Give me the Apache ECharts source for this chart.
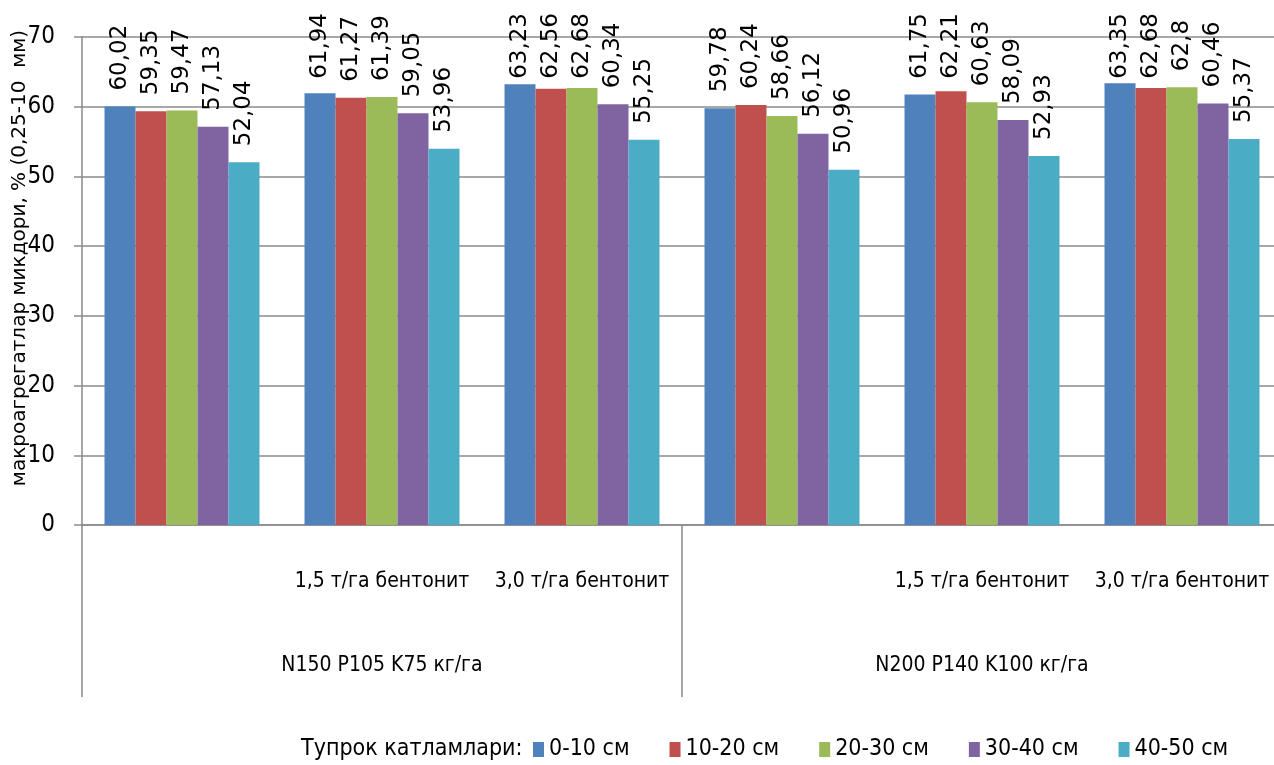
<!DOCTYPE html>
<html>
<head>
<meta charset="utf-8">
<script src="https://cdn.jsdelivr.net/npm/echarts@6/dist/echarts.min.js"></script>
<style>
  html, body { margin: 0; padding: 0; background: #fff; overflow: hidden; }
  #chart { width: 1282px; height: 765px; }
</style>
</head>
<body>
<div id="chart"></div>
<script>
// Treatment sub-labels (first row under the axis) and fertiliser groups (second row)
var treatments = ['', '1,5 т/га бентонит', '3,0 т/га бентонит', '', '1,5 т/га бентонит', '3,0 т/га бентонит'];
var fertGroups = ['N150 P105 K75 кг/га', 'N200 P140 K100 кг/га'];

// Soil layers (legend) and their values, % macroaggregates 0,25-10 mm
var layers = ['0-10 см', '10-20 см', '20-30 см', '30-40 см', '40-50 см'];
var layer0_10  = [60.02, 61.94, 63.23, 59.78, 61.75, 63.35];
var layer10_20 = [59.35, 61.27, 62.56, 60.24, 62.21, 62.68];
var layer20_30 = [59.47, 61.39, 62.68, 58.66, 60.63, 62.8];
var layer30_40 = [57.13, 59.05, 60.34, 56.12, 58.09, 60.46];
var layer40_50 = [52.04, 53.96, 55.25, 50.96, 52.93, 55.37];
var layerValues = [layer0_10, layer10_20, layer20_30, layer30_40, layer40_50];

var colors = ['#4F81BD', '#C0504D', '#9BBB59', '#8064A2', '#4BACC6'];
var axisGray = '#8a8a8a';
var narrow = '"DejaVu Sans Condensed", "Liberation Sans Narrow", Roboto, sans-serif';
var valueFont = '"DejaVu Sans", sans-serif';
var valueFontSize = 23;
var labelGap = 16;      // space between bar top and its value label
var labelCeiling = 13;  // value labels never rise above this line

function fmt(v) { return String(v).replace('.', ','); }

var chart = echarts.init(document.getElementById('chart'), null, { renderer: 'canvas' });

function buildSeries(distances) {
  return layers.map(function (name, i) {
    return {
      name: name,
      type: 'bar',
      xAxisIndex: 0,
      data: layerValues[i].map(function (v, j) {
        return { value: v, label: { distance: distances ? distances[i][j] : labelGap } };
      }),
      barGap: '0%',
      barCategoryGap: '22.5%',
      itemStyle: { color: colors[i] },
      label: {
        show: true,
        position: 'top',
        distance: labelGap,
        rotate: 90,
        align: 'left',
        verticalAlign: 'middle',
        fontFamily: valueFont,
        fontSize: valueFontSize,
        color: '#000',
        formatter: function (p) { return fmt(p.value); }
      }
    };
  });
}

chart.setOption({
  animation: false,
  backgroundColor: '#fff',
  color: colors,
  grid: { left: 82, right: 0, top: 37, bottom: 240, containLabel: false },
  legend: {
    data: layers,
    left: 533,
    top: 738,
    padding: 0,
    icon: 'rect',
    itemWidth: 11,
    itemHeight: 15,
    itemGap: 40,
    textStyle: { fontFamily: narrow, fontSize: 23, color: '#000' }
  },
  xAxis: [
    {
      type: 'category',
      data: treatments,
      position: 'bottom',
      axisLine: { show: true, lineStyle: { color: axisGray, width: 1.5 } },
      axisTick: { show: false },
      axisLabel: { interval: 0, margin: 46, fontFamily: narrow, fontSize: 21, color: '#000' },
      splitLine: { show: false }
    },
    {
      type: 'category',
      data: fertGroups,
      position: 'bottom',
      gridIndex: 0,
      axisLine: { show: false },
      axisTick: { show: true, length: 172, lineStyle: { color: axisGray, width: 1.5 } },
      axisLabel: { interval: 0, margin: 130, fontFamily: narrow, fontSize: 21, color: '#000' },
      splitLine: { show: false }
    }
  ],
  yAxis: {
    type: 'value',
    min: 0,
    max: 70,
    interval: 10,
    axisLine: { show: true, lineStyle: { color: axisGray, width: 1.5 } },
    axisTick: { show: true, length: 8, lineStyle: { color: axisGray, width: 1.5 } },
    axisLabel: { margin: 27, fontFamily: narrow, fontSize: 24, color: '#000' },
    splitLine: { show: true, lineStyle: { color: axisGray, width: 1.5 } }
  },
  graphic: [
    {
      type: 'text',
      x: 20,
      y: 258,
      rotation: Math.PI / 2,
      style: {
        text: 'макроагрегатлар микдори, % (0,25-10  мм)',
        align: 'center',
        verticalAlign: 'middle',
        font: '20px "DejaVu Sans", sans-serif',
        fill: '#000'
      }
    },
    {
      type: 'text',
      x: 301,
      y: 749,
      style: {
        text: 'Тупрок катламлари:',
        align: 'left',
        verticalAlign: 'middle',
        font: '23px ' + narrow,
        fill: '#000'
      }
    }
  ],
  series: buildSeries(null)
});

// Pull tall value labels down so they stay below the ceiling line
var measureCtx = document.createElement('canvas').getContext('2d');
measureCtx.font = valueFontSize + 'px ' + valueFont;
var distances = layerValues.map(function (vals) {
  return vals.map(function (v) {
    var barTop = chart.convertToPixel({ yAxisIndex: 0 }, v);
    var len = measureCtx.measureText(fmt(v)).width;
    var top = barTop - labelGap - len;
    return top < labelCeiling ? labelGap - (labelCeiling - top) : labelGap;
  });
});
chart.setOption({ series: buildSeries(distances) });
</script>
</body>
</html>
